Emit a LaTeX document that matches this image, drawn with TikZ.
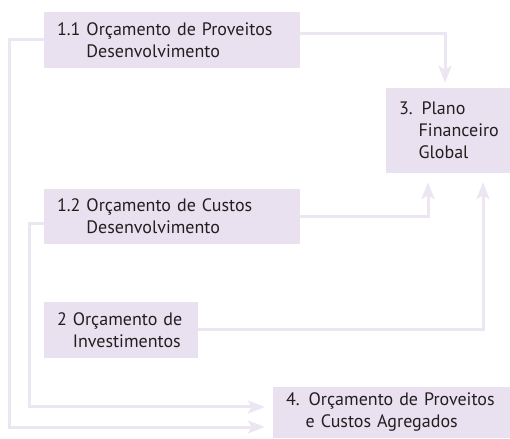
\documentclass[tikz,border=0pt]{standalone}
\usepackage{fontspec}
\setmainfont[WordSpace={1.6}]{PT Sans}
\usepackage{tikz}
\usetikzlibrary{calc,arrows.meta}

\begin{document}
\begin{tikzpicture}[x=1pt,y=1pt,
    caixa/.style={fill=boxlilac, text=textgray, inner xsep=13pt, inner ysep=0pt,
      align=left, anchor=center, font=\fontsize{18}{22}\selectfont},
    fluxo/.style={draw=linelilac, line width=3pt, -{Stealth[length=17pt,width=13pt,inset=4pt]}}]
    \definecolor{boxlilac}{RGB}{233,225,239}
    \definecolor{linelilac}{RGB}{236,229,242}
    \definecolor{textgray}{RGB}{35,31,32}
    \useasboundingbox (0,0) rectangle (510,438);

    % Caixas
    \node[caixa, minimum width=256pt, minimum height=56pt, text width=230pt] (p11) at (172,398)
      {1.1 Orçamento de Proveitos\\\phantom{1.1\ }Desenvolvimento};
    \node[caixa, minimum width=124pt, minimum height=85pt, text width=98pt] (plano) at (448,307.5)
      {3. Plano\\\phantom{3.\ }Financeiro\\\phantom{3.\ }Global};
    \node[caixa, minimum width=256pt, minimum height=55pt, text width=230pt] (c12) at (172,221.5)
      {1.2 Orçamento de Custos\\\phantom{1.2\ }Desenvolvimento};
    \node[caixa, minimum width=154pt, minimum height=56pt, text width=128pt] (inv) at (121,108)
      {2 Orçamento de\\\phantom{2\ }Investimentos};
    \node[caixa, minimum width=237pt, minimum height=51pt, text width=211pt] (agr) at (391.5,25.5)
      {4. Orçamento de Proveitos\\\phantom{4.\ }e Custos Agregados};

    % Ligações para o plano financeiro
    \draw[fluxo] ([yshift=6pt]p11.east) -| ([xshift=-3pt,yshift=5pt]plano.north);
    \draw[fluxo] (c12.east) -| ([xshift=-20pt,yshift=-9pt]plano.south);
    \draw[fluxo] (inv.east) -| ([xshift=35pt,yshift=-9pt]plano.south);

    % Ligações para o orçamento agregado
    \draw[fluxo] (p11.west) -- ++(-34,0) |- ([xshift=-8pt,yshift=-14.5pt]agr.west);
    \draw[fluxo] ([yshift=-7.5pt]c12.west) -- ++(-14,0) |- ([xshift=-8pt,yshift=5.5pt]agr.west);
  \end{tikzpicture}
\end{document}
